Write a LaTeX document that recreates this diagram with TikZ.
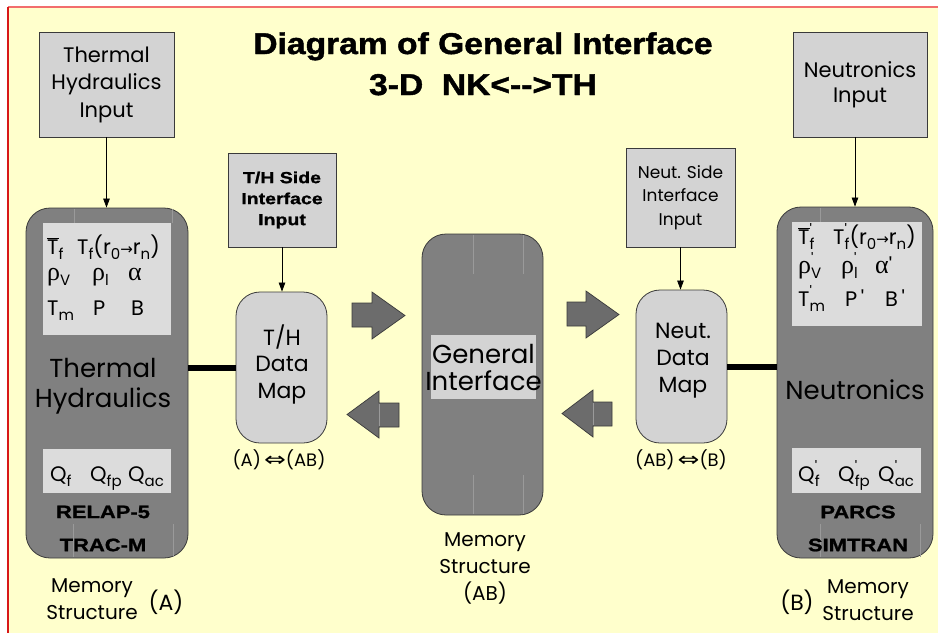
\documentclass[tikz,border=0pt]{standalone}
\usepackage{fontspec}
\usepackage{graphicx}
\setmainfont{Poppins}
\newfontfamily\hdB[FakeStretch=1.22,FakeBold=1.2]{Liberation Sans}
\newfontfamily\hdT[FakeStretch=1.12,FakeBold=1.4]{Liberation Sans}
\newfontfamily\gk{Liberation Serif}
\newfontfamily\symf{DejaVu Sans}
\usetikzlibrary{arrows.meta}
\definecolor{bgc}{HTML}{FFFFCC}
\definecolor{topc}{HTML}{F26D6D}
\definecolor{leftc}{HTML}{D81818}
\definecolor{lite}{HTML}{D3D3D3}
\definecolor{panelc}{HTML}{DCDCDC}
\definecolor{bigc}{HTML}{808080}
\definecolor{blockc}{HTML}{6C6C6C}
\definecolor{edgec}{HTML}{3A3A3A}
\definecolor{seamc}{HTML}{9A9A9A}
\newcommand\dn[1]{\raisebox{-0.28em}[0.5em][0.1em]{\fontsize{15}{15}\selectfont #1}}
\newcommand\pdn[1]{\rlap{\raisebox{0.4em}[0.6em][0pt]{\fontsize{15}{15}\selectfont\textquotesingle}}\dn{#1}}
\newcommand\tb{$\overline{\mbox{T}}$}
\newcommand\arr{{\symf\fontsize{15}{15}\selectfont →}}
\newcommand\rh{{\gk\fontsize{26}{26}\selectfont ρ}}
\newcommand\al{{\gk\fontsize{26}{26}\selectfont α}}
\newcommand\dbl{{\symf\scalebox{1.45}[1.1]{⇔}}}
\tikzset{
 inbox/.style={draw=edgec, fill=lite, line width=0.8pt, inner sep=0pt, align=center},
 bigbox/.style={draw=edgec, fill=bigc, line width=0.8pt, rounded corners=24pt, inner sep=0pt},
 mapbox/.style={draw=edgec, fill=lite, line width=0.8pt, rounded corners=24pt, inner sep=0pt},
 pane/.style={fill=panelc},
 txt/.style={inner sep=0pt, align=center, text=black},
 item/.style={inner sep=0pt, anchor=base west, font=\fontsize{21}{21}\selectfont},
 boldlab/.style={inner sep=0pt, font=\hdB\bfseries\fontsize{18}{18}\selectfont},
 feed/.style={draw=black, line width=0.7pt, -{Triangle[length=9pt,width=6.5pt]}},
 link/.style={draw=black, line width=6pt},
 blockarrow/.style={fill=blockc, draw=edgec, line width=0.7pt},
 seam/.style={draw=seamc, line width=0.6pt},
}
\begin{document}
\begin{tikzpicture}[x=1pt,y=-1pt]
\useasboundingbox (0,0) rectangle (938,633);
\fill[bgc] (8,7) rectangle (938,633);
\draw[draw=topc, line width=1.2pt] (8,7) -- (938,7);
\draw[draw=leftc, line width=1.2pt] (8,7) -- (8,633);

% title
\node[txt, anchor=base, font=\hdT\bfseries\fontsize{30}{30}\selectfont] (title1) at (483,54) {Diagram of General Interface};
\node[txt, anchor=base, font=\hdT\bfseries\fontsize{30}{30}\selectfont] (title2) at (483,95) {3-D\ \ NK<-{}-{}>TH};

% input boxes
\node[inbox, minimum width=135, minimum height=105, font=\fontsize{21}{27.5}\selectfont] (thin) at (106.5,84.5) {Thermal\\Hydraulics\\Input};
\node[inbox, minimum width=134, minimum height=105, font=\fontsize{21}{25}\selectfont] (nin) at (860,84.5) {Neutronics\\Input};
\node[inbox, minimum width=108, minimum height=94, font=\hdB\bfseries\fontsize{16}{21}\selectfont] (thside) at (282,200) {T/H Side\\Interface\\Input};
\node[inbox, minimum width=109, minimum height=99, font=\fontsize{17}{23.5}\selectfont] (nside) at (680.5,197.5) {Neut. Side\\Interface\\Input};

% big boxes
\node[bigbox, minimum width=162, minimum height=350] (th) at (107,383) {};
\node[bigbox, minimum width=156, minimum height=351] (nb) at (855,382.5) {};
\node[bigbox, minimum width=121, minimum height=281] (gi) at (482.5,374.5) {};

% seams
\draw[seam] (74,209) -- (74,223) (172,209) -- (172,223) (73,524) -- (73,557) (173,524) -- (173,557);
\draw[seam] (473,235) -- (473,274) (523,235) -- (523,274) (473,475) -- (473,514) (523,475) -- (523,514);
\draw[seam] (820,208) -- (820,222) (820,524) -- (820,557) (920,524) -- (920,557);

% panels
\fill[pane] (43,223) rectangle (171,335);
\fill[pane] (43,449) rectangle (171,493);
\fill[pane] (792,222) rectangle (922,326);
\fill[pane] (792,448) rectangle (921,493);
\fill[lite] (431,335) rectangle (536,399);

% data maps
\node[mapbox, minimum width=91, minimum height=151] (tmap) at (281.5,367.5) {};
\node[mapbox, minimum width=91, minimum height=153] (nmap) at (681.5,366.5) {};
\node[txt, font=\fontsize{22}{26.5}\selectfont] (tmaptxt) at (282,364) {T/H\\Data\\Map};
\node[txt, font=\fontsize{22}{27}\selectfont] (nmaptxt) at (683,361) {Neut.\\Data\\Map};

% connectors
\draw[feed] (thin.south) -- (thin.south |- th.north);
\draw[feed] (nb.north |- nin.south) -- (nb.north);
\draw[feed] (thside.south) -- (thside.south |- tmap.north);
\draw[feed] (nside.south) -- (nside.south |- nmap.north);
\draw[link] (th.east |- tmap.west) -- (tmap.west);
\draw[link] (nmap.east) -- (nmap.east -| nb.west);

% block arrows
\filldraw[blockarrow] (352,303) -- (372,303) -- (372,292) -- (405,315.5) -- (372,339) -- (372,327) -- (352,327) -- cycle;
\filldraw[blockarrow] (399,403) -- (379,403) -- (379,391) -- (347,414.5) -- (379,438) -- (379,427) -- (399,427) -- cycle;
\filldraw[blockarrow] (567,302) -- (586,302) -- (586,291) -- (619,314.5) -- (586,338) -- (586,326) -- (567,326) -- cycle;
\filldraw[blockarrow] (612,402) -- (593,402) -- (593,390) -- (562,413.5) -- (593,437) -- (593,426) -- (612,426) -- cycle;
\draw[seam] (379,404) -- (379,426) (593,403) -- (593,425);

% big box texts
\node[txt, font=\fontsize{26}{30}\selectfont] (thname) at (103,386) {Thermal\\Hydraulics};
\node[txt, font=\fontsize{26}{30}\selectfont] (nname) at (855,390) {Neutronics};
\node[txt, font=\fontsize{26}{27}\selectfont] (giname) at (483.5,367) {General\\Interface};
\node[boldlab] (relap) at (103,512) {RELAP-5};
\node[boldlab] (trac) at (103,545) {TRAC-M};
\node[boldlab] (parcs) at (858,512) {PARCS};
\node[boldlab] (simtran) at (858,545) {SIMTRAN};

% left panel items
\node[item] (l11) at (47,254) {\tb\dn{f}};
\node[item] (l12) at (77,254) {T\dn{f}(r\dn{0}\arr r\dn{n})};
\node[item] (l21) at (47,280) {\rh\dn{V}};
\node[item] (l22) at (92,280) {\rh\dn{l}};
\node[item] (l23) at (128,280) {\al};
\node[item] (l31) at (47,315) {T\dn{m}};
\node[item] (l32) at (93,315) {P};
\node[item] (l33) at (131,315) {B};
\node[item] (l41) at (50,481) {Q\dn{f}};
\node[item] (l42) at (90,481) {Q\dn{fp}};
\node[item] (l43) at (128,481) {Q\dn{ac}};

% right panel items
\node[item] (r11) at (798,244) {\tb\pdn{f}};
\node[item] (r12) at (833,244) {T\pdn{f}(r\dn{0}\arr r\dn{n})};
\node[item] (r21) at (798,273) {\rh\pdn{V}};
\node[item] (r22) at (841,273) {\rh\pdn{l}};
\node[item] (r23) at (875,273) {\al\textquotesingle};
\node[item] (r31) at (798,306) {T\pdn{m}};
\node[item] (r32) at (845,306) {P\,\textquotesingle};
\node[item] (r33) at (885,306) {B\,\textquotesingle};
\node[item] (r41) at (798,481) {Q\pdn{f}};
\node[item] (r42) at (838,481) {Q\pdn{fp}};
\node[item] (r43) at (878,481) {Q\pdn{ac}};

% mapping labels
\node[txt, font=\fontsize{18}{18}\selectfont] (mapA) at (279,460) {(A)\,\dbl(AB)};
\node[txt, font=\fontsize{18}{18}\selectfont] (mapB) at (681,460) {(AB)\,\dbl(B)};

% memory structure labels
\node[txt, font=\fontsize{20}{27}\selectfont] (memA) at (92,599) {Memory\\Structure};
\node[txt, font=\fontsize{22}{22}\selectfont] (memAl) at (166,602) {(A)};
\node[txt, font=\fontsize{20}{27}\selectfont] (memAB) at (485,568) {Memory\\Structure\\(AB)};
\node[txt, font=\fontsize{22}{22}\selectfont] (memBl) at (797,602) {(B)};
\node[txt, font=\fontsize{20}{27}\selectfont] (memB) at (868,600) {Memory\\Structure};
\end{tikzpicture}
\end{document}
